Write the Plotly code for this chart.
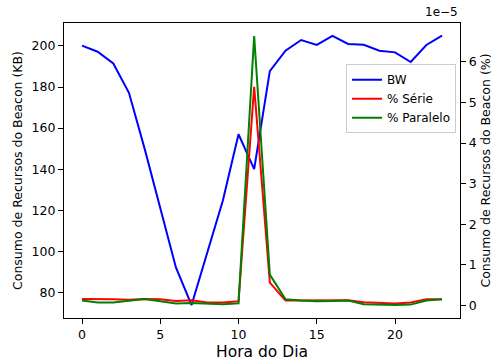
import plotly.graph_objects as go

hours = list(range(24))
bw_kb = [200.2, 197.2, 191.5, 177.2, 150.0, 121.4, 92.1, 73.8, 99.0, 124.7, 157.0, 140.0,
         187.8, 197.7, 202.9, 200.5, 204.9, 201.0, 200.6, 197.7, 196.9, 192.2, 200.5, 205.0]
pct_serie = [0.16e-5, 0.16e-5, 0.15e-5, 0.14e-5, 0.16e-5, 0.15e-5, 0.11e-5, 0.13e-5, 0.07e-5, 0.07e-5,
             0.10e-5, 5.39e-5, 0.56e-5, 0.12e-5, 0.12e-5, 0.12e-5, 0.12e-5, 0.13e-5, 0.08e-5, 0.07e-5,
             0.05e-5, 0.07e-5, 0.15e-5, 0.15e-5]
pct_paralelo = [0.12e-5, 0.07e-5, 0.07e-5, 0.11e-5, 0.16e-5, 0.10e-5, 0.05e-5, 0.06e-5, 0.04e-5, 0.03e-5,
                0.05e-5, 6.64e-5, 0.76e-5, 0.15e-5, 0.12e-5, 0.10e-5, 0.11e-5, 0.12e-5, 0.03e-5, 0.02e-5,
                0.01e-5, 0.02e-5, 0.12e-5, 0.15e-5]
x_ticks = [0, 5, 10, 15, 20]
left_ticks = [80, 100, 120, 140, 160, 180, 200]
right_ticks = [0, 1, 2, 3, 4, 5, 6]

font = "DejaVu Sans"
fig = go.Figure()
fig.add_trace(go.Scatter(x=hours, y=bw_kb, mode="lines", name="BW",
                         line=dict(color="#0000ff", width=2), yaxis="y"))
fig.add_trace(go.Scatter(x=hours, y=pct_serie, mode="lines", name="% Série",
                         line=dict(color="#ff0000", width=2), yaxis="y2"))
fig.add_trace(go.Scatter(x=hours, y=pct_paralelo, mode="lines", name="% Paralelo",
                         line=dict(color="#008000", width=2), yaxis="y2"))

axis_common = dict(showgrid=False, zeroline=False, showline=True, linecolor="black", linewidth=1.3,
                   ticks="outside", ticklen=5, tickwidth=1, tickcolor="black",
                   tickfont=dict(family=font, size=12.5, color="black"))

fig.update_layout(
    width=493, height=361,
    margin=dict(l=64, r=33, t=23, b=43, autoexpand=False),
    plot_bgcolor="white", paper_bgcolor="white",
    font=dict(family=font, color="black"),
    xaxis=dict(range=[-1.15, 24.15], tickvals=x_ticks, mirror=True,
               title=dict(text="Hora do Dia", font=dict(family=font, size=15.5), standoff=4),
               **axis_common),
    yaxis=dict(range=[67.5, 211.2], tickvals=left_ticks,
               title=dict(text="Consumo de Recursos do Beacon (KB)", font=dict(family=font, size=12.5), standoff=6),
               **axis_common),
    yaxis2=dict(range=[-0.31e-5, 6.96e-5], overlaying="y", side="right",
                tickvals=[v * 1e-5 for v in right_ticks], ticktext=[str(v) for v in right_ticks],
                title=dict(text="Consumo de Recursos do Beacon (%)", font=dict(family=font, size=12.5), standoff=6),
                **axis_common),
    legend=dict(x=0.99, y=0.86, xanchor="right", yanchor="top",
                bgcolor="rgba(255,255,255,0.8)", bordercolor="#cccccc", borderwidth=1,
                font=dict(family=font, size=12), tracegroupgap=0, itemwidth=30),
    showlegend=True,
)
fig.add_annotation(text="1e\u22125", xref="paper", yref="paper", x=1.0, y=1.0,
                   xanchor="right", yanchor="bottom", showarrow=False, yshift=2,
                   font=dict(family=font, size=12, color="black"))

fig.write_html("out.html")
